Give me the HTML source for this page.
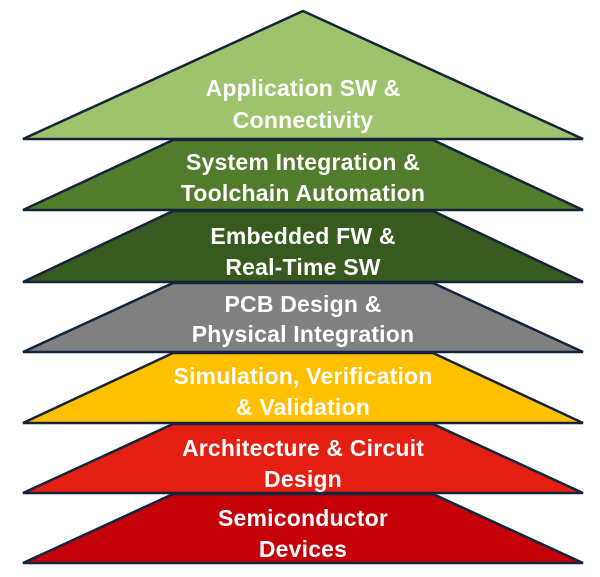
<!DOCTYPE html>
<html><head><style>
html,body{margin:0;padding:0;background:#fff;}
svg{display:block}
text{font-family:"Liberation Sans",sans-serif;font-weight:bold;font-size:23px;letter-spacing:0.2px;fill:#fff;text-anchor:middle}
</style></head><body>
<svg width="600" height="577" viewBox="0 0 600 577">
<g stroke="#14243c" stroke-width="2.5" stroke-linejoin="miter">
<polygon points="303,11 583,139 23,139" fill="#9dc46c"/>
<polygon points="173,140 433,140 583,210 23,210" fill="#507c2c"/>
<polygon points="173,211 433,211 583,282 23,282" fill="#375b1e"/>
<polygon points="173,283 433,283 583,352 23,352" fill="#808080"/>
<polygon points="173,353 433,353 583,423 23,423" fill="#ffc000"/>
<polygon points="173,424 433,424 583,493 23,493" fill="#e41e10"/>
<polygon points="173,494 433,494 583,563 23,563" fill="#c40008"/>
</g>
<text x="303" y="96">Application SW &amp;</text>
<text x="303" y="128">Connectivity</text>
<text x="303" y="170">System Integration &amp;</text>
<text x="303" y="201">Toolchain Automation</text>
<text x="303" y="244">Embedded FW &amp;</text>
<text x="303" y="275">Real-Time SW</text>
<text x="303" y="312">PCB Design &amp;</text>
<text x="303" y="342">Physical Integration</text>
<text x="303" y="384">Simulation, Verification</text>
<text x="303" y="415">&amp; Validation</text>
<text x="303" y="456">Architecture &amp; Circuit</text>
<text x="303" y="487">Design</text>
<text x="303" y="526">Semiconductor</text>
<text x="303" y="557">Devices</text>
</svg>
</body></html>
